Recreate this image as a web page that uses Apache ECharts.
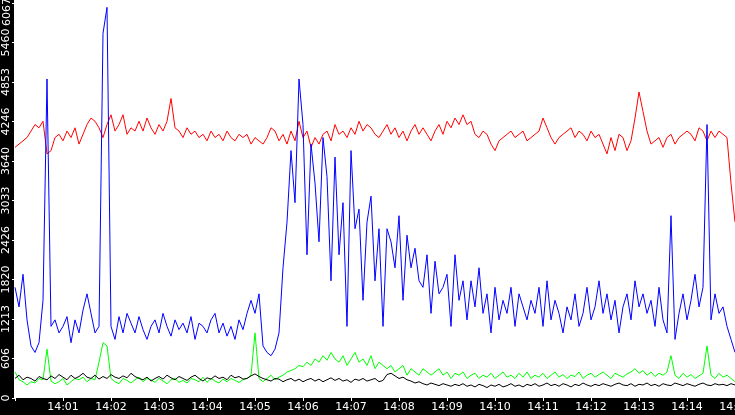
<!DOCTYPE html>
<html><head><meta charset="utf-8">
<script src="https://cdn.jsdelivr.net/npm/echarts@6/dist/echarts.min.js"></script>
<style>html,body{margin:0;padding:0;background:#fff}#c{width:735px;height:415px}</style>
</head><body><div id="c"></div>
<script>
// samples every 5 seconds starting at 14:00:00
var stepSec = 5;
var yTicks = [0,606,1213,1820,2426,3033,3640,4246,4853,5460,6067];
var blue = [1700,1400,1900,1200,800,700,850,1500,4900,1100,1200,1000,1100,1250,850,1200,1000,1350,1600,1300,1000,1100,5600,6000,1100,900,1250,1000,1300,1150,1000,1250,1050,900,1100,1200,1000,1300,1100,950,1200,1050,1150,1000,1250,900,1150,1100,1000,1200,1300,1000,1150,950,1100,900,1200,1050,1300,1500,1300,1600,800,700,650,750,1000,2000,2700,3800,3000,4900,4200,2200,3900,3300,2400,4000,3400,1800,3700,2200,3000,1100,3800,2600,2900,1500,2700,3100,1800,2600,1100,2600,2400,2000,2800,1500,2500,2000,2300,1800,1700,2200,1300,2100,1600,1700,1900,1100,2200,1500,1800,1200,1800,1400,2000,1300,1600,1000,1700,1200,1500,1300,1700,1100,1600,1400,1200,1500,1300,1700,1100,1800,1200,1500,1300,1000,1400,1200,1600,1100,1300,1700,1200,1400,1800,1300,1600,1200,1500,1000,1400,1600,1200,1800,1400,1600,1300,1500,1100,1700,1200,1000,2800,900,1300,1600,1200,1500,1900,1400,1700,4200,1200,1600,1300,1400,1100,900,700];
var red = [3850,3900,3950,4000,4100,4200,4150,4250,3750,3800,4000,4050,3950,4100,4000,4150,3900,4050,4200,4300,4250,4150,4000,4200,4350,4100,4200,4350,4050,4150,4100,4250,4100,4300,4150,4050,4200,4100,4250,4600,4150,4100,4000,4150,4050,4100,4000,4050,3950,4100,4000,4050,3950,4100,4000,3950,4050,4000,4050,3900,4000,3950,3900,4000,4150,4100,3950,4050,3900,4100,3950,4250,4000,4100,3850,4000,3900,4050,4100,3950,4200,4050,4100,4000,4150,4050,4250,4100,4200,4150,4050,4000,4100,4200,4050,4150,4000,4100,3950,4100,4200,4050,4150,4050,3950,4100,4200,4050,4250,4150,4300,4200,4350,4200,4250,4050,4000,4100,4050,3900,3800,3950,4000,4050,4100,4000,4050,4100,3950,4000,4050,4100,4300,4150,4000,3900,4000,4050,4100,4150,4000,4100,4050,3950,4100,4000,4050,3900,3750,4000,3800,4050,4000,3800,3950,4300,4700,4400,4100,3900,3950,4000,3850,4000,4050,3900,4000,4050,4100,4050,3950,4150,4100,3950,4100,4000,4100,4050,4000,3300,2700];
var green = [400,280,250,200,250,230,300,280,750,260,220,250,300,200,250,300,280,320,250,300,280,550,850,800,300,250,220,300,270,230,280,320,250,300,280,240,300,260,220,280,300,240,270,230,300,280,250,320,240,300,260,230,290,250,300,270,240,280,300,350,1000,300,250,300,350,280,320,350,400,420,450,500,480,550,500,600,550,650,580,700,600,550,650,500,600,700,550,600,500,650,450,550,500,450,500,400,450,500,350,450,400,350,450,400,350,400,450,350,400,300,380,350,400,300,350,380,300,350,320,380,300,350,400,320,350,300,380,320,400,300,350,320,380,300,350,400,320,360,300,350,330,400,300,350,380,320,360,400,350,300,380,350,320,370,400,450,380,420,350,400,330,380,350,400,650,350,300,380,320,360,300,340,380,800,350,300,380,320,350,300,250];
var black = [300,350,280,320,300,260,330,300,280,340,300,360,320,280,350,300,330,380,320,300,350,290,330,300,360,320,300,340,310,380,330,300,280,320,260,300,330,290,350,310,280,330,300,270,320,350,300,260,310,290,340,300,320,280,350,310,330,290,300,340,370,330,300,280,260,300,290,250,280,300,260,290,250,280,300,260,290,250,280,310,270,300,260,280,240,290,270,300,260,280,300,250,270,360,380,340,300,320,280,260,230,250,220,200,230,210,190,220,200,180,210,190,220,180,200,170,210,190,160,200,180,210,170,190,220,180,200,170,210,190,220,180,200,230,190,210,180,220,200,170,210,190,230,200,180,210,190,220,200,180,210,230,200,190,220,180,210,200,230,190,210,180,220,200,190,230,210,190,220,200,180,210,230,200,190,220,200,210,190,220,200];

function pts(arr){ return arr.map(function(v,i){ return [i*stepSec, v]; }); }
function ser(name, arr, color){
  return {name:name,type:'line',data:pts(arr),showSymbol:false,symbol:'none',
    lineStyle:{color:color,width:1},itemStyle:{color:color},silent:true};
}
var chart = echarts.init(document.getElementById('c'));
chart.setOption({
  animation:false,
  backgroundColor:'#fff',
  graphic:[
    {type:'rect',z:-10,shape:{x:0,y:0,width:14,height:415},style:{fill:'#000'}},
    {type:'rect',z:-10,shape:{x:0,y:398,width:735,height:17},style:{fill:'#000'}},
    {type:'text',x:7,y:12,rotation:Math.PI/2,z:10,
     style:{text:String(yTicks[yTicks.length-1]),fill:'#fff',font:'11px "DejaVu Sans"',align:'center',verticalAlign:'middle'}}
  ],
  grid:{left:15,right:0,top:3,bottom:17,containLabel:false,outerBoundsMode:'none'},
  xAxis:{type:'value',min:0,max:900,interval:60,
    axisLine:{show:false},
    axisTick:{show:true,length:3,lineStyle:{color:'#fff'}},
    splitLine:{show:false},
    axisLabel:{color:'#fff',fontFamily:'DejaVu Sans',fontSize:11,margin:4,hideOverlap:false,
      showMaxLabel:true,
      formatter:function(v){ if(v===0) return ''; var m=v/60; return '14:'+(m<10?'0':'')+m; }}
  },
  yAxis:{type:'value',min:0,max:6067,interval:606.7,
    axisLine:{show:false},
    axisTick:{show:true,length:3,lineStyle:{color:'#fff'}},
    splitLine:{show:false},
    axisLabel:{color:'#fff',fontFamily:'DejaVu Sans',fontSize:11,rotate:90,margin:3,
      formatter:function(v){ var i=Math.round(v/606.7); return i>=10 ? '' : String(yTicks[i]); }}
  },
  series:[ser('red',red,'#ff0000'),ser('green',green,'#00ff00'),ser('black',black,'#000000'),ser('blue',blue,'#0000ff')]
});
</script></body></html>
